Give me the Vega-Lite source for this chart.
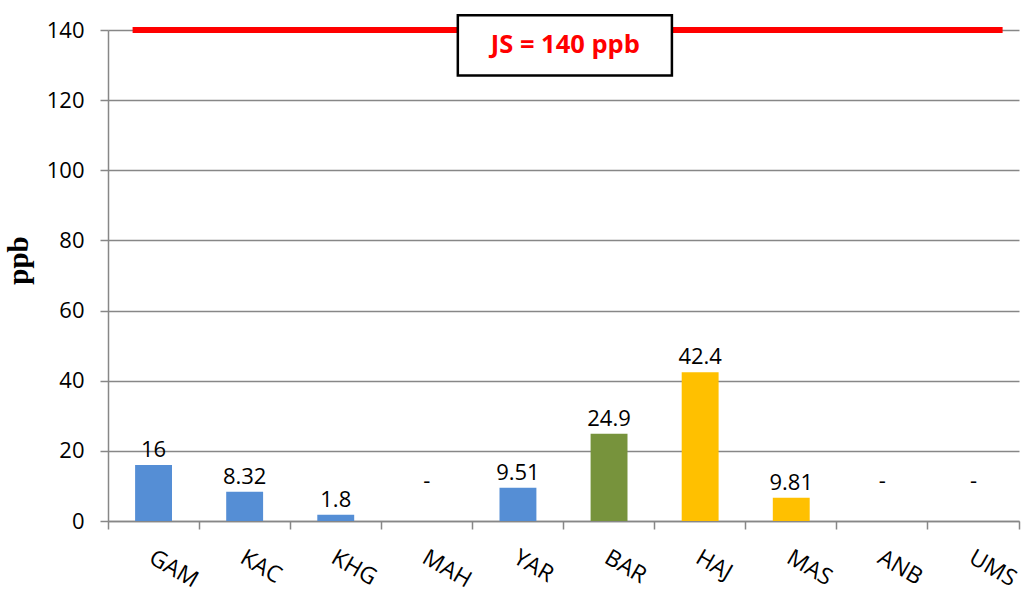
{
  "$schema": "https://vega.github.io/schema/vega-lite/v6.json",
  "autosize": "none",
  "width": 911,
  "height": 491,
  "padding": {"left": 108, "top": 30, "right": 16, "bottom": 92},
  "background": "white",
  "config": {"view": {"stroke": null}, "font": "Open Sans"},
  "data": {"values": [
    {"site": "GAM", "value": 16, "label": "16", "group": "A"},
    {"site": "KAC", "value": 8.32, "label": "8.32", "group": "A"},
    {"site": "KHG", "value": 1.8, "label": "1.8", "group": "A"},
    {"site": "MAH", "value": null, "label": "-", "group": "A"},
    {"site": "YAR", "value": 9.51, "label": "9.51", "group": "A"},
    {"site": "BAR", "value": 24.9, "label": "24.9", "group": "B"},
    {"site": "HAJ", "value": 42.4, "label": "42.4", "group": "C"},
    {"site": "MAS", "value": 6.6, "label": "9.81", "group": "C"},
    {"site": "ANB", "value": null, "label": "-", "group": "C"},
    {"site": "UMS", "value": null, "label": "-", "group": "C"}
  ]},
  "encoding": {
    "x": {
      "field": "site", "type": "nominal", "sort": null, "title": null,
      "scale": {"domain": ["GAM","KAC","KHG","MAH","YAR","BAR","HAJ","MAS","ANB","UMS"], "paddingInner": 0, "paddingOuter": 0},
      "axis": {
        "labelAngle": 30, "labelAlign": "left", "labelBaseline": "top",
        "labelFontSize": 23, "labelColor": "#000000", "labelPadding": 17, "labelOffset": 3,
        "bandPosition": 1, "tickExtra": true, "tickSize": 8,
        "tickColor": "#878787", "tickWidth": 1.5,
        "domainColor": "#878787", "domainWidth": 1.5, "grid": false
      }
    }
  },
  "layer": [
    {
      "mark": {"type": "bar", "width": {"band": 0.405}},
      "encoding": {
        "y": {
          "field": "value", "type": "quantitative",
          "scale": {"domain": [0, 140], "nice": false},
          "axis": {
            "values": [0, 20, 40, 60, 80, 100, 120, 140],
            "title": "ppb", "titleFont": "Liberation Serif", "titleFontSize": 29,
            "titleFontWeight": "bold", "titleColor": "#000000", "titleAngle": -90,
            "titleX": -90, "titleY": 230, "titleAlign": "center", "titleBaseline": "middle",
            "labelFontSize": 22, "labelColor": "#000000", "labelPadding": 16,
            "tickSize": 8, "tickColor": "#878787", "tickWidth": 1.5,
            "domainColor": "#878787", "domainWidth": 1.5,
            "grid": true, "gridColor": "#878787", "gridWidth": 1.5
          }
        },
        "color": {
          "field": "group", "type": "nominal", "legend": null,
          "scale": {"domain": ["A", "B", "C"], "range": ["#558ED5", "#77933C", "#FFC000"]}
        }
      }
    },
    {
      "transform": [{"filter": "datum.value != null"}],
      "mark": {"type": "text", "baseline": "alphabetic", "dy": -8, "fontSize": 22, "color": "#000000"},
      "encoding": {
        "y": {"field": "value", "type": "quantitative"},
        "text": {"field": "label"}
      }
    },
    {
      "transform": [{"filter": "datum.value == null"}],
      "mark": {"type": "text", "baseline": "middle", "fontSize": 22, "color": "#000000"},
      "encoding": {
        "y": {"datum": 11.5},
        "text": {"field": "label"}
      }
    },
    {
      "data": {"values": [{"limit": 140}]},
      "mark": {"type": "rule", "color": "#FF0000", "strokeWidth": 6},
      "encoding": {
        "x": {"datum": "GAM", "bandPosition": 0.27},
        "x2": {"datum": "UMS", "bandPosition": 0.82},
        "y": {"field": "limit", "type": "quantitative"}
      }
    },
    {
      "data": {"values": [{"top": 144.2, "bottom": 127}]},
      "mark": {"type": "rect", "fill": "white", "stroke": "#000000", "strokeWidth": 2.5},
      "encoding": {
        "x": {"datum": "MAH", "bandPosition": 0.84},
        "x2": {"datum": "HAJ", "bandPosition": 0.19},
        "y": {"field": "top", "type": "quantitative"},
        "y2": {"field": "bottom"}
      }
    },
    {
      "data": {"values": [{"t": "JS = 140 ppb", "pos": 135.6}]},
      "mark": {"type": "text", "fontSize": 25.5, "fontWeight": "bold", "color": "#FF0000", "align": "center", "baseline": "middle"},
      "encoding": {
        "x": {"datum": "BAR", "bandPosition": 0.02},
        "y": {"field": "pos", "type": "quantitative"},
        "text": {"field": "t"}
      }
    }
  ]
}
